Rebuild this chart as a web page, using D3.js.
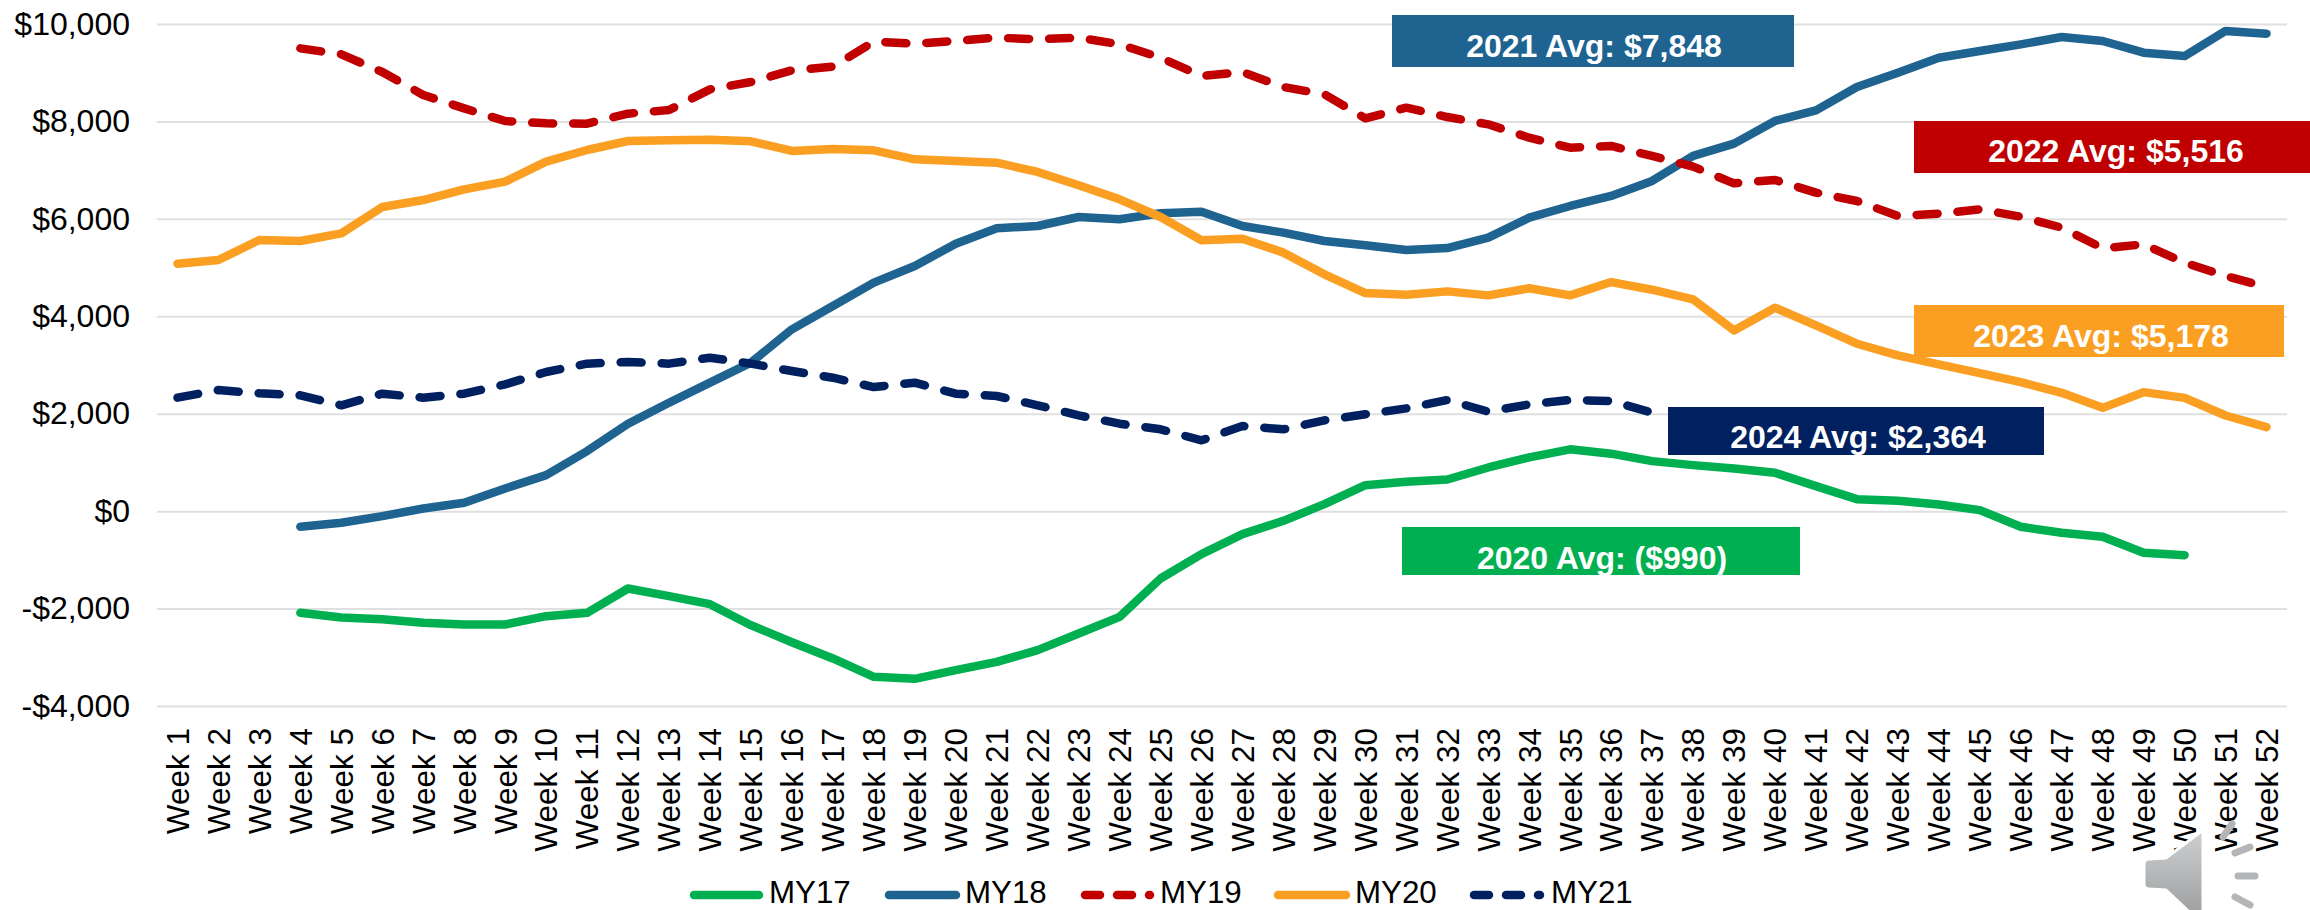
<!DOCTYPE html>
<html>
<head>
<meta charset="utf-8">
<script src="https://cdn.jsdelivr.net/npm/d3@7"></script>
<style>
  html, body { margin: 0; padding: 0; background: #fff; }
  svg { display: block; font-family: "Liberation Sans", Arial, sans-serif; }
  .axis text { font-size: 32px; fill: #000; }
  .axis--x text { font-size: 31.5px; }
  .axis--y line { stroke: #e0e0e0; stroke-width: 2; }
  .axis .domain { display: none; }
  .line { fill: none; stroke-width: 8.5; stroke-linejoin: round; stroke-linecap: round; }
  .avg text { font-size: 32px; font-weight: bold; fill: #fff; text-anchor: middle; }
  .legend text { font-size: 31.3px; fill: #000; }
</style>
</head>
<body>
<svg width="2310" height="910"></svg>
<script>
// values, null = no point that week
var weeks = d3.range(1, 53).map(d => "Week " + d);
var yTicks = [-4000, -2000, 0, 2000, 4000, 6000, 8000, 10000];

var MY17 = [null, null, null, -2067, -2162, -2197, -2272, -2306, -2306, -2135, -2067, -1567, -1724, -1889, -2320, -2670,
  -3004, -3380, -3421, -3244, -3073, -2833, -2491, -2149, -1362, -862, -452, -178, 164, 554, 623, 671, 917, 1125,
  1290, 1200, 1047, 965, 896, 807, 534, 267, 233, 157, 41, -301, -424, -506, -835, -883, null, null];

var MY18 = [null, null, null, -301, -219, -82, 75, 192, 486, 760, 1254, 1816, 2247, 2658, 3069, 3753,
  4232, 4711, 5053, 5511, 5826, 5874, 6059, 6011, 6134, 6168, 5874, 5737, 5566, 5477, 5381, 5422, 5634, 6045,
  6285, 6490, 6798, 7312, 7565, 8030, 8248, 8727, 9021, 9329, 9466, 9603, 9754, 9672, 9432, 9363, 9877, 9822];

var MY19 = [null, null, null, 9521, 9398, 9035, 8563, 8289, 8029, 7981, 7975, 8180, 8255, 8679, 8830, 9069,
  9144, 9658, 9617, 9672, 9740, 9706, 9740, 9603, 9329, 8953, 9035, 8727, 8577, 8084, 8303, 8111, 7961, 7687,
  7482, 7517, 7312, 7093, 6750, 6819, 6559, 6387, 6079, 6127, 6216, 6065, 5840, 5416, 5498, 5121, 4847, 4621];

var MY20 = [5100, 5176, 5587, 5566, 5723, 6264, 6407, 6626, 6784, 7194, 7434, 7619, 7632, 7646, 7612, 7415,
  7455, 7428, 7243, 7209, 7174, 6983, 6709, 6422, 6059, 5580, 5614, 5327, 4882, 4498, 4464, 4532, 4450, 4595,
  4450, 4723, 4566, 4368, 3730, 4197, 3833, 3457, 3217, 3035, 2852, 2668, 2449, 2141, 2463, 2346, 1984, 1745];

var MY21 = [2350, 2507, 2439, 2398, 2193, 2432, 2350, 2432, 2623, 2877, 3048, 3082, 3048, 3171, 3048, 2897,
  2760, 2568, 2658, 2432, 2384, 2193, 1987, 1816, 1700, 1474, 1768, 1700, 1884, 2008, 2131, 2302, 2063, 2213,
  2302, 2282, 2042, null, null, null, null, null, null, null, null, null, null, null, null, null, null, null];

var seriesNames = ["MY17", "MY18", "MY19", "MY20", "MY21"];
var seriesValues = [MY17, MY18, MY19, MY20, MY21];
var avgTexts = ["2021 Avg: $7,848", "2022 Avg: $5,516", "2023 Avg: $5,178", "2024 Avg: $2,364", "2020 Avg: ($990)"];

var GREEN = "#00b050", BLUE = "#1f6391", RED = "#c00000", ORANGE = "#fa9f22", NAVY = "#002060";
var colors = [GREEN, BLUE, RED, ORANGE, NAVY];
var dashed = [false, false, true, false, true];

var svg = d3.select("svg");
var LEFT = 157, RIGHT = 2287, TOP = 24, BOTTOM = 706;

var x = d3.scaleBand().domain(weeks).range([LEFT, RIGHT]);
var y = d3.scaleLinear().domain([-4000, 10000]).range([BOTTOM, TOP]);

var money = d => (d < 0 ? "-$" : "$") + d3.format(",")(Math.abs(d));

svg.append("g")
    .attr("class", "axis axis--y")
    .attr("transform", "translate(" + LEFT + ",0)")
    .call(d3.axisLeft(y).tickValues(yTicks).tickFormat(money).tickSize(-(RIGHT - LEFT)).tickPadding(27));

var xAxis = svg.append("g")
    .attr("class", "axis axis--x")
    .attr("transform", "translate(0," + BOTTOM + ")")
    .call(d3.axisBottom(x).tickSize(0));
xAxis.selectAll("text")
    .attr("transform", "rotate(-90)")
    .attr("text-anchor", "end")
    .attr("x", -22)
    .attr("y", 0)
    .attr("dy", "0.36em");

var line = d3.line()
    .defined(d => d != null)
    .x((d, i) => x(weeks[i]) + x.bandwidth() / 2)
    .y(d => y(d));

svg.append("g")
    .attr("transform", "translate(0,1)")
  .selectAll(".line")
    .data(seriesValues)
    .enter().append("path")
    .attr("class", "line")
    .attr("d", line)
    .attr("stroke", (d, i) => colors[i])
    .attr("stroke-dasharray", (d, i) => dashed[i] ? "21 20" : null);

// average boxes sit on top of the lines
var boxes = [
  {x: 1392, y: 15, w: 402, h: 52, cx: 1594, base: 57, fill: BLUE},
  {x: 1914, y: 121, w: 396, h: 52, cx: 2116, base: 162, fill: RED},
  {x: 1914, y: 305, w: 370, h: 52, cx: 2101, base: 347, fill: ORANGE},
  {x: 1668, y: 407, w: 376, h: 48, cx: 1858, base: 448, fill: NAVY},
  {x: 1402, y: 527, w: 398, h: 48, cx: 1602, base: 569, fill: GREEN}
];
var avg = svg.selectAll(".avg")
    .data(boxes)
    .enter().append("g")
    .attr("class", "avg");
avg.append("rect")
    .attr("x", d => d.x).attr("y", d => d.y)
    .attr("width", d => d.w).attr("height", d => d.h)
    .attr("fill", d => d.fill);
avg.append("text")
    .attr("x", d => d.cx).attr("y", d => d.base)
    .text((d, i) => avgTexts[i]);

// legend
var legendPos = [
  {x1: 694, x2: 759, text: 769},
  {x1: 889, x2: 956, text: 965},
  {x1: 1085, x2: 1150, text: 1160},
  {x1: 1278, x2: 1346, text: 1355},
  {x1: 1474, x2: 1540, text: 1551}
];
var LEGEND_Y = 895, LEGEND_BASE = 903;
var legend = svg.selectAll(".legend")
    .data(seriesNames)
    .enter().append("g")
    .attr("class", "legend");
legend.append("line")
    .attr("x1", (d, i) => legendPos[i].x1)
    .attr("x2", (d, i) => legendPos[i].x2)
    .attr("y1", LEGEND_Y).attr("y2", LEGEND_Y)
    .attr("stroke", (d, i) => colors[i])
    .attr("stroke-width", 8.5)
    .attr("stroke-linecap", "round")
    .attr("stroke-dasharray", (d, i) => dashed[i] ? "15 17" : null);
legend.append("text")
    .attr("x", (d, i) => legendPos[i].text)
    .attr("y", LEGEND_BASE)
    .text(d => d);

// speaker icon from the slide, bottom right
var defs = svg.append("defs");
var grad = defs.append("linearGradient")
    .attr("id", "speaker").attr("x1", 0).attr("y1", 0).attr("x2", 0).attr("y2", 1);
grad.append("stop").attr("offset", 0).attr("stop-color", "#cfd0d2");
grad.append("stop").attr("offset", 1).attr("stop-color", "#98999b");

var speaker = svg.append("g");
speaker.append("path")
    .attr("d", "M2203,830 L2166,858 L2149,859 Q2144,859 2144,864 L2144,884 Q2144,889 2149,889 L2166,890 L2203,925 Z")
    .attr("fill", "url(#speaker)")
    .attr("stroke", "#fff")
    .attr("stroke-width", 3)
    .attr("stroke-linejoin", "round");
var rays = [[2223, 837, 2232, 824], [2235, 853, 2250, 847], [2238, 876, 2255, 876], [2235, 897, 2250, 905]];
speaker.selectAll(".ray")
    .data(rays)
    .enter().append("line")
    .attr("class", "ray")
    .attr("x1", d => d[0]).attr("y1", d => d[1])
    .attr("x2", d => d[2]).attr("y2", d => d[3])
    .attr("stroke", "#b4b5b7")
    .attr("stroke-width", 7)
    .attr("stroke-linecap", "round");
</script>
</body>
</html>
